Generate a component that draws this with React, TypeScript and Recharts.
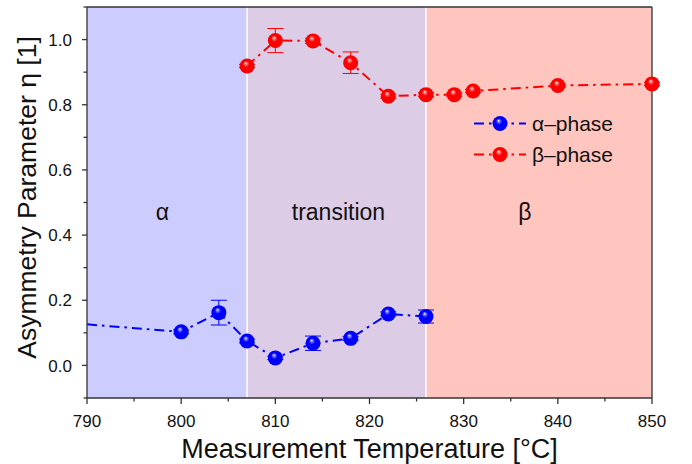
import {
  ComposedChart,
  ErrorBar,
  Legend,
  Line,
  ReferenceArea,
  ReferenceDot,
  ReferenceLine,
  XAxis,
  YAxis,
} from "recharts";

const alphaTemps = [790, 800, 804, 807, 810, 814, 818, 822, 826];
const alphaEta = [0.126, 0.103, 0.162, 0.075, 0.023, 0.068, 0.083, 0.158, 0.15];
const alphaErr = [0, 0.006, 0.038, 0.006, 0.005, 0.022, 0.006, 0.006, 0.02];

const betaTemps = [807, 810, 814, 818, 822, 826, 829, 831, 840, 850];
const betaEta = [0.919, 0.997, 0.996, 0.929, 0.826, 0.831, 0.831, 0.842, 0.859, 0.864];
const betaErr = [0.005, 0.037, 0.008, 0.033, 0.006, 0.006, 0.005, 0.005, 0.005, 0.005];

// phase regions
const regionStart = [790, 807, 826];
const regionEnd = [807, 826, 850];
const regionNames = ["α", "transition", "β"];
const regionLabelX = [798, 816.7, 836.5];
const regionColors = ["#CCCCFF", "#DDCCE6", "#FFC5BF"];

const xTicks = [790, 795, 800, 805, 810, 815, 820, 825, 830, 835, 840, 845, 850];
const yTicks = [-0.1, 0, 0.1, 0.2, 0.3, 0.4, 0.5, 0.6, 0.7, 0.8, 0.9, 1.0, 1.1];

const seriesNames = ["α–phase", "β–phase"];

const alphaData = alphaTemps.map((t, i) => ({ t, eta: alphaEta[i], err: alphaErr[i] }));
const betaData = betaTemps.map((t, i) => ({ t, eta: betaEta[i], err: betaErr[i] }));

const FONT = '"Liberation Sans", Arial, sans-serif';
const AXIS = "#333";
const TEXT = "#111";
const DASH = "10 5 2.5 5";

const isMajorX = (v: number) => v % 10 === 0;
const isMajorY = (v: number) => {
  const k = Math.round(v * 10);
  return k % 2 === 0 && k >= 0 && k <= 10;
};

const BottomTick = (props: any) => {
  const { x, y, payload } = props;
  const major = isMajorX(payload.value);
  return (
    <g>
      <line x1={x} x2={x} y1={y} y2={y + (major ? 6 : 3.5)} stroke={AXIS} strokeWidth={1.3} />
      {major && (
        <text x={x} y={y + 29} textAnchor="middle" fontSize={17} fill={TEXT} fontFamily={FONT}>
          {payload.value}
        </text>
      )}
    </g>
  );
};

const TopTick = (props: any) => {
  const { x, y, payload } = props;
  const major = isMajorX(payload.value);
  return <line x1={x} x2={x} y1={y} y2={y + (major ? 8 : 4)} stroke={AXIS} strokeWidth={1.3} />;
};

const LeftTick = (props: any) => {
  const { x, y, payload } = props;
  const major = isMajorY(payload.value);
  return (
    <g>
      <line x1={x} x2={x - (major ? 5 : 3.5)} y1={y} y2={y} stroke={AXIS} strokeWidth={1.3} />
      {major && (
        <text x={x - 15} y={y} dy="0.36em" textAnchor="end" fontSize={17} fill={TEXT} fontFamily={FONT}>
          {payload.value.toFixed(1)}
        </text>
      )}
    </g>
  );
};

const RightTick = (props: any) => {
  const { x, y } = props;
  return <line x1={x} x2={x - 8} y1={y} y2={y} stroke={AXIS} strokeWidth={1.3} />;
};

const YTitle = (props: any) => {
  const vb = props.viewBox;
  const cx = vb.x + 26;
  const cy = vb.y + vb.height / 2 - 5;
  return (
    <text
      transform={`translate(${cx}, ${cy}) rotate(-90)`}
      textAnchor="middle"
      dy="0.36em"
      fontSize={26.5}
      fill={TEXT}
      fontFamily={FONT}
    >
      Asymmetry Parameter η [1]
    </text>
  );
};

const XTitle = (props: any) => {
  const vb = props.viewBox;
  return (
    <text x={vb.x + vb.width / 2} y={vb.y + 60} textAnchor="middle" fontSize={27} fill={TEXT} fontFamily={FONT}>
      Measurement Temperature [°C]
    </text>
  );
};

const Gradient = ({ id, light, main, dark }: { id: string; light: string; main: string; dark: string }) => (
  <radialGradient id={id} cx="0.5" cy="0.5" r="0.55" fx="0.4" fy="0.3">
    <stop offset="0" stopColor="#fff" />
    <stop offset="0.14" stopColor={light} />
    <stop offset="0.38" stopColor={main} />
    <stop offset="0.85" stopColor={main} />
    <stop offset="1" stopColor={dark} />
  </radialGradient>
);

const ball = (grad: string, hideFirst: boolean) => (props: any) => {
  const { cx, cy, index } = props;
  if (hideFirst && index === 0) return <g key={`d${index}`} />;
  return <circle key={`d${index}`} cx={cx} cy={cy} r={7.5} fill={`url(#${grad})`} />;
};

const LegendBox = () => (
  <div style={{ fontFamily: FONT, fontSize: 21, color: TEXT, lineHeight: "31px" }}>
    {seriesNames.map((name, i) => {
      const c = i === 0 ? "#0000FF" : "#FF0000";
      const g = i === 0 ? "blueBall" : "redBall";
      return (
        <div key={name} style={{ display: "flex", alignItems: "center", height: 31 }}>
          <svg width={60} height={31}>
            <line x1={4} x2={56} y1={15.5} y2={15.5} stroke={c} strokeWidth={2} strokeDasharray={DASH} />
            <circle cx={30} cy={15.5} r={7.5} fill={`url(#${g})`} />
          </svg>
          <span style={{ marginLeft: 2 }}>{name}</span>
        </div>
      );
    })}
  </div>
);

export default function App() {
  return (
    <div style={{ position: "absolute", left: 0, top: 0 }}>
      <svg width={0} height={0} style={{ position: "absolute" }}>
        <defs>
          <Gradient id="blueBall" light="#8080ff" main="#0000ff" dark="#0000a8" />
          <Gradient id="redBall" light="#ff8080" main="#ff0000" dark="#b00000" />
        </defs>
      </svg>
      <ComposedChart width={692} height={464} margin={{ top: 7, right: 40, bottom: 0, left: 0 }}>
        <XAxis
          xAxisId="b"
          dataKey="t"
          type="number"
          domain={[790, 850]}
          ticks={xTicks}
          interval={0}
          height={66}
          tickSize={0}
          tickMargin={0}
          tickLine={false}
          tick={<BottomTick />}
          axisLine={{ stroke: AXIS, strokeWidth: 1.3 }}
          label={<XTitle />}
        />
        <XAxis
          xAxisId="top"
          orientation="top"
          mirror
          type="number"
          domain={[790, 850]}
          ticks={xTicks}
          interval={0}
          tickSize={0}
          tickMargin={0}
          tickLine={false}
          tick={<TopTick />}
          axisLine={{ stroke: AXIS, strokeWidth: 1.3 }}
        />
        <YAxis
          yAxisId="l"
          type="number"
          domain={[-0.1, 1.1]}
          ticks={yTicks}
          interval={0}
          width={87}
          tickSize={0}
          tickMargin={0}
          tickLine={false}
          tick={<LeftTick />}
          axisLine={{ stroke: AXIS, strokeWidth: 1.3 }}
          label={<YTitle />}
        />
        <YAxis
          yAxisId="r"
          orientation="right"
          mirror
          type="number"
          domain={[-0.1, 1.1]}
          ticks={yTicks}
          interval={0}
          tickSize={0}
          tickMargin={0}
          tickLine={false}
          tick={<RightTick />}
          axisLine={{ stroke: AXIS, strokeWidth: 1.3 }}
        />

        {regionNames.map((name, i) => (
          <ReferenceArea
            key={name}
            xAxisId="b"
            yAxisId="l"
            x1={regionStart[i]}
            x2={regionEnd[i]}
            y1={-0.1}
            y2={1.1}
            fill={regionColors[i]}
            fillOpacity={1}
            stroke="none"
          />
        ))}
        {regionEnd.slice(0, 2).map((x) => (
          <ReferenceLine key={x} xAxisId="b" yAxisId="l" x={x} stroke="#fff" strokeWidth={1.5} />
        ))}
        {regionNames.map((name, i) => (
          <ReferenceDot
            key={`lab${name}`}
            xAxisId="b"
            yAxisId="l"
            x={regionLabelX[i]}
            y={0.47}
            r={0}
            stroke="none"
            fill="none"
            label={{ value: name, position: "center", fontSize: 23, fill: TEXT, fontFamily: FONT }}
          />
        ))}

        <Line
          xAxisId="b"
          yAxisId="l"
          data={alphaData}
          dataKey="eta"
          name={seriesNames[0]}
          stroke="#0000FF"
          strokeWidth={2}
          strokeDasharray={DASH}
          dot={ball("blueBall", true)}
          activeDot={false}
          isAnimationActive={false}
        >
          <ErrorBar dataKey="err" direction="y" width={8} stroke="#0000FF" strokeWidth={1} />
        </Line>
        <Line
          xAxisId="b"
          yAxisId="l"
          data={betaData}
          dataKey="eta"
          name={seriesNames[1]}
          stroke="#FF0000"
          strokeWidth={2}
          strokeDasharray={DASH}
          dot={ball("redBall", false)}
          activeDot={false}
          isAnimationActive={false}
        >
          <ErrorBar dataKey="err" direction="y" width={8} stroke="#FF0000" strokeWidth={1} />
        </Line>

        <Legend
          layout="vertical"
          align="center"
          verticalAlign="middle"
          content={<LegendBox />}
          wrapperStyle={{ left: 470, top: 108, width: 200 }}
        />
      </ComposedChart>
    </div>
  );
}
